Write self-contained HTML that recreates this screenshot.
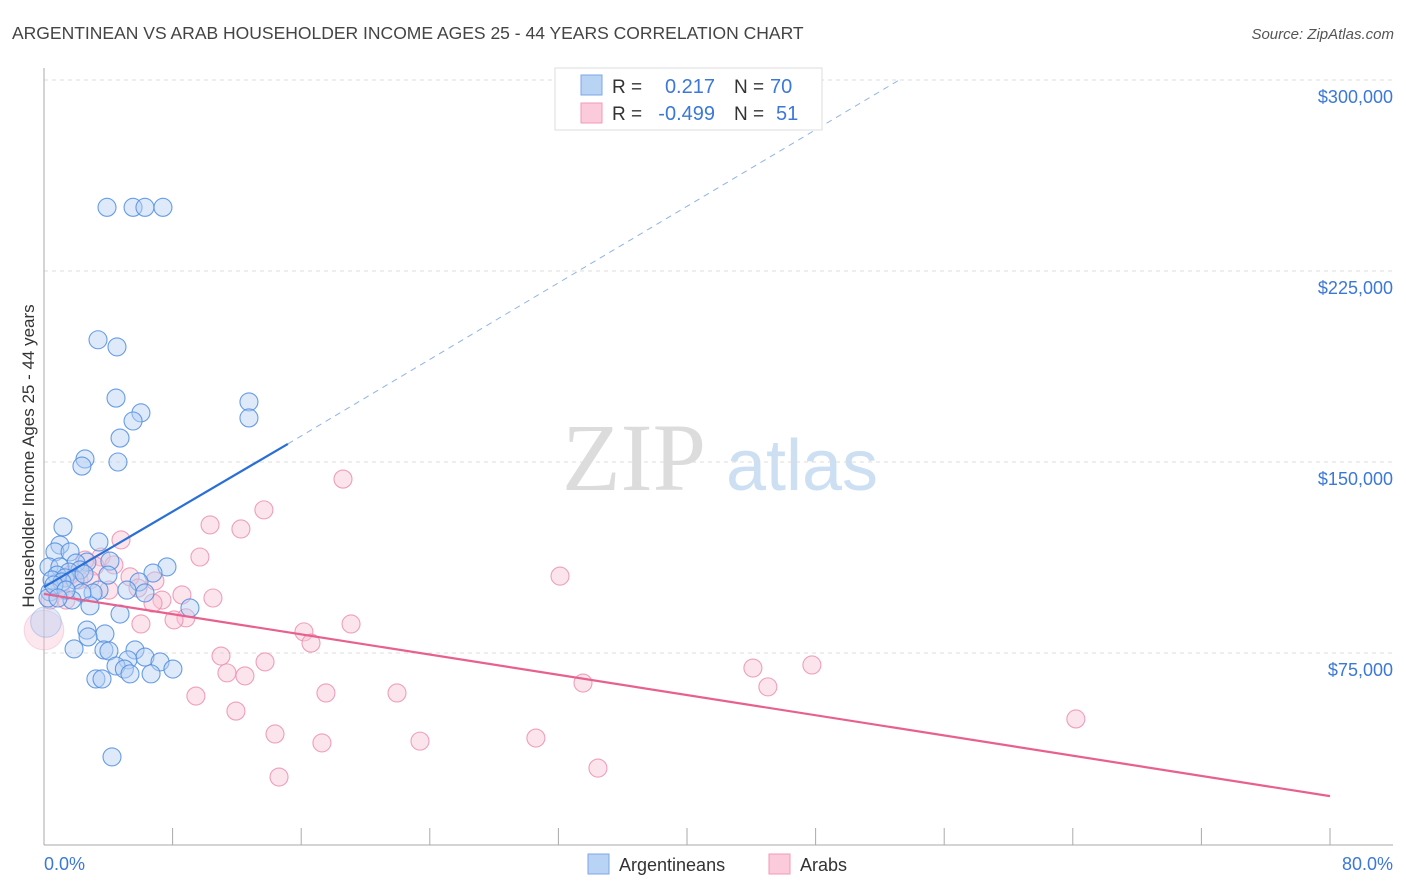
<!DOCTYPE html>
<html><head><meta charset="utf-8">
<style>
body{margin:0;background:#fff;font-family:"Liberation Sans",sans-serif;}
svg{display:block}
</style></head>
<body>
<svg id="chart" width="1406" height="892" xmlns="http://www.w3.org/2000/svg" font-family="Liberation Sans, sans-serif">
<text x="12" y="39" font-size="17.5" fill="#444">ARGENTINEAN VS ARAB HOUSEHOLDER INCOME AGES 25 - 44 YEARS CORRELATION CHART</text>
<text x="1394" y="39" font-size="15" fill="#555" text-anchor="end" font-style="italic">Source: ZipAtlas.com</text>
<g>
<text x="634" y="490" font-size="96" fill="#dcdcdc" text-anchor="middle" font-family="Liberation Serif, serif">ZIP</text>
<text x="802" y="490" font-size="72" fill="#cddff3" text-anchor="middle">atlas</text>
</g>
<g id="grid"></g>
<g id="axes"></g>
<g id="pts"></g>
<g id="lines"></g>
<text transform="translate(34,456) rotate(-90)" font-size="17" fill="#333" text-anchor="middle">Householder Income Ages 25 - 44 years</text>
<text x="44" y="870" font-size="18" fill="#3b78d8">0.0%</text>
<text x="1393" y="870" font-size="18" fill="#3b78d8" text-anchor="end">80.0%</text>
<g>
<rect x="555" y="68" width="267" height="62" fill="#fff" stroke="#ddd"/>
<rect x="581" y="75" width="21" height="20" fill="#b9d3f5" stroke="#7aa7e8"/>
<rect x="581" y="103" width="21" height="20" fill="#fbcadb" stroke="#f09ab6"/>
<text x="612" y="93" font-size="19" fill="#333">R =</text>
<text x="715" y="93" font-size="20" fill="#3b78d8" text-anchor="end">0.217</text>
<text x="734" y="93" font-size="19" fill="#333">N =</text>
<text x="770" y="93" font-size="20" fill="#3b78d8">70</text>
<text x="612" y="120" font-size="19" fill="#333">R =</text>
<text x="715" y="120" font-size="20" fill="#3b78d8" text-anchor="end">-0.499</text>
<text x="734" y="120" font-size="19" fill="#333">N =</text>
<text x="776" y="120" font-size="20" fill="#3b78d8">51</text>
</g>
<g>
<rect x="588" y="854" width="21" height="20" fill="#b9d3f5" stroke="#7aa7e8"/>
<text x="619" y="871" font-size="18" fill="#333">Argentineans</text>
<rect x="769" y="854" width="21" height="20" fill="#fbcadb" stroke="#f09ab6"/>
<text x="800" y="871" font-size="18" fill="#333">Arabs</text>
</g>
</svg>
<script>
const yTicks=[75000,150000,225000,300000];
const yTickLabels=["$75,000","$150,000","$225,000","$300,000"];
const xTicks=[0,8,16,24,32,40,48,56,64,72,80];
const blueX=[3.92,5.54,6.28,7.40,3.36,4.54,4.48,6.03,5.54,12.75,12.75,4.73,2.55,2.36,4.60,1.18,0.99,3.42,0.68,1.62,2.67,1.99,0.31,0.99,2.24,1.56,0.81,0.50,1.31,1.93,1.12,7.65,6.78,5.91,0.37,3.42,3.05,2.36,5.16,6.28,1.74,2.86,9.08,4.73,3.79,2.67,2.74,1.87,3.73,4.04,5.66,6.28,5.22,4.48,5.0,7.22,8.02,6.66,5.35,3.23,3.61,4.23,0.12,0.25,0.62,1.37,4.10,2.49,3.98,0.87];
const blueY=[250000,250000,250000,250000,198000,195200,175100,169300,166100,173600,167300,159400,151200,148400,150000,124500,117400,118600,114700,114700,110700,110300,108800,108800,107600,106800,105600,103700,104500,103700,102900,108800,106400,102900,99000,99700,98600,98600,99700,98600,95800,93500,92700,90300,82500,84000,81300,76600,76200,75800,76200,73400,72300,69900,68700,71500,68700,66800,66800,64800,64800,34200,87200,96600,101700,99700,111100,106000,105600,96600];
const blueSize=[1,1,1,1,1,1,1,1,1,1,1,1,1,1,1,1,1,1,1,1,1,1,1,1,1,1,1,1,1,1,1,1,1,1,1,1,1,1,1,1,1,1,1,1,1,1,1,1,1,1,1,1,1,1,1,1,1,1,1,1,1,1,1.7,1,1,1,1,1,1,1];
const pinkX=[18.6,13.68,10.33,12.25,4.79,9.70,3.55,4.35,3.17,32.1,5.35,6.90,2.18,5.85,4.04,8.58,10.51,7.34,6.78,8.83,8.09,6.03,16.17,16.61,19.10,11.01,13.75,11.38,12.50,44.1,47.77,33.53,45.03,9.45,17.54,21.96,11.94,64.19,14.37,17.29,23.39,30.60,14.62,34.46,0.0,1.0,1.62,2.86,0.37,2.55,1.37];
const pinkY=[143300,131200,125300,123700,119400,112700,112700,109600,109200,105200,104900,103300,103700,100500,99700,97800,96600,95800,94600,88800,88000,86400,83300,78900,86400,73800,71500,67200,66000,69100,70300,63200,61700,58100,59300,59300,52200,49100,43200,39700,40400,41600,26300,29800,84000,99700,105600,103700,95800,111500,95800];
const pinkSize=[1,1,1,1,1,1,1,1,1,1,1,1,1,1,1,1,1,1,1,1,1,1,1,1,1,1,1,1,1,1,1,1,1,1,1,1,1,1,1,1,1,1,1,1,2.2,1,1,1,1,1,1];
const blueTrend=[[0,100900],[15.17,157100]];
const blueTrendExt=[[15.17,157100],[53.2,300000]];
const pinkTrend=[[0,98200],[80,18800]];

const NS="http://www.w3.org/2000/svg";
const X=v=>44+v/80*1286;
const Y=v=>844-v/300000*764;
function mk(tag,attrs,parent){const e=document.createElementNS(NS,tag);for(const k in attrs)e.setAttribute(k,attrs[k]);parent.appendChild(e);return e;}
const grid=document.getElementById('grid'),axes=document.getElementById('axes'),pts=document.getElementById('pts'),lines=document.getElementById('lines');
yTicks.forEach((t,i)=>{
  const l=mk('line',{x1:44,x2:1393,y1:Y(t),y2:Y(t),stroke:'#ddd','stroke-dasharray':'4,4'},grid);
  
  
  const tx=mk('text',{x:1393,y:Y(t)+23,'font-size':18,fill:'#3b78d8','text-anchor':'end'},grid);
  tx.textContent=yTickLabels[i];
  
  
});
const ax=mk('line',{x1:44,x2:44,y1:68,y2:845,stroke:'#aaa'},axes);


const bx=mk('line',{x1:44,x2:1393,y1:845,y2:845,stroke:'#aaa'},axes);


xTicks.forEach(t=>{
  const l=mk('line',{x1:X(t),x2:X(t),y1:828,y2:845,stroke:'#aaa'},axes);
  
  
});
function dots(xs,ys,ss,fill,stroke,name){
  xs.forEach((v,i)=>{
    const big=ss[i]>1.2;
    const c=mk('circle',{cx:X(v),cy:Y(ys[i]),r:9*ss[i],fill:fill,'fill-opacity':big?0.4:0.45,stroke:stroke,'stroke-width':1.1,'stroke-opacity':big?0.3:0.85},pts);
    
    
  });
}
dots(pinkX,pinkY,pinkSize,'#f9c3d5','#ec8fb0','arab-point');
dots(blueX,blueY,blueSize,'#b5d0f3','#4f8de0','argentinean-point');
function ln(p,color,w,dash,name){
  const a={x1:X(p[0][0]),y1:Y(p[0][1]),x2:X(p[1][0]),y2:Y(p[1][1]),stroke:color,'stroke-width':w};
  if(dash)a['stroke-dasharray']=dash;
  const l=mk('line',a,lines);
  
  
}
ln(blueTrendExt,'#8fb3e8',1,'6,5','argentinean-trend-extension');
ln(blueTrend,'#2a6fd6',2.2,null,'argentinean-trend-line');
ln(pinkTrend,'#e8608e',2.2,null,'arab-trend-line');
</script>
</body></html>
